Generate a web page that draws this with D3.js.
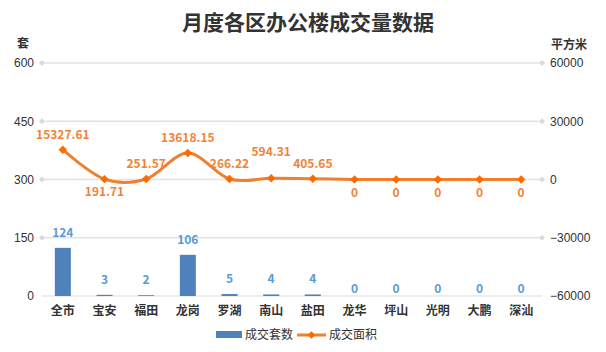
<html>
<head>
<script src="https://d3js.org/d3.v7.min.js"></script>
<style>
body { margin: 0; background: #fff; }
text { font-family: "Noto Sans CJK SC", "Microsoft YaHei", sans-serif; }
</style>
</head>
<body>
<svg id="chart" width="606" height="352"></svg>
<script>
const districts = ["全市", "宝安", "福田", "龙岗", "罗湖", "南山", "盐田", "龙华", "坪山", "光明", "大鹏", "深汕"];
const units = [124, 3, 2, 106, 5, 4, 4, 0, 0, 0, 0, 0];
const areas = [15327.61, 191.71, 251.57, 13618.15, 266.22, 594.31, 405.65, 0, 0, 0, 0, 0];
const areaLabels = ["15327.61", "191.71", "251.57", "13618.15", "266.22", "594.31", "405.65", "0", "0", "0", "0", "0"];
const leftTicks = [0, 150, 300, 450, 600];
const rightTicks = [-60000, -30000, 0, 30000, 60000];

const svg = d3.select("#chart");
const margin = { top: 63, right: 64, bottom: 56, left: 42 };
const width = 606, height = 352;
const chartW = width - margin.left - margin.right;
const chartH = height - margin.top - margin.bottom;

const g = svg.append("g").attr("transform", `translate(${margin.left},${margin.top})`);

const x = d3.scaleBand().domain(districts).range([0, chartW]);
const yL = d3.scaleLinear().domain([0, 600]).range([chartH, 0]);
const yR = d3.scaleLinear().domain([-60000, 60000]).range([chartH, 0]);

// rotated square as marker
const rhomb = s => d3.symbol().type(d3.symbolSquare).size(s);

// title
svg.append("text").attr("x", 308).attr("y", 30).attr("text-anchor", "middle")
    .attr("font-size", 21).attr("font-weight", "bold").attr("fill", "#333")
    .text("月度各区办公楼成交量数据");
svg.append("text").attr("x", 23).attr("y", 48).attr("text-anchor", "middle")
    .attr("font-size", 12).attr("font-weight", "bold").attr("fill", "#333").text("套");
svg.append("text").attr("x", 569).attr("y", 49).attr("text-anchor", "middle")
    .attr("font-size", 12).attr("font-weight", "bold").attr("fill", "#333").text("平方米");

// gridlines
g.selectAll("line.grid").data(leftTicks.slice(1)).join("line")
    .attr("class", "grid")
    .attr("x1", 0).attr("x2", chartW)
    .attr("y1", d => yL(d)).attr("y2", d => yL(d))
    .attr("stroke", "#e3e3e3").attr("stroke-width", 1.5);
g.append("line").attr("x1", 0).attr("x2", chartW)
    .attr("y1", chartH).attr("y2", chartH).attr("stroke", "#d9d9d9");

// left axis
const leftAxis = g.append("g").attr("class", "y axis")
    .call(d3.axisLeft(yL).tickValues(leftTicks).tickSize(0).tickPadding(8));
leftAxis.select(".domain").remove();
leftAxis.selectAll("text").attr("font-size", 12).attr("fill", "#333")
    .style("font-family", "'Liberation Sans', Arial, sans-serif");
g.selectAll("path.ldia").data(leftTicks.slice(1)).join("path")
    .attr("class", "ldia").attr("d", rhomb(18))
    .attr("transform", d => `translate(0,${yL(d)}) rotate(45)`).attr("fill", "#d9d9d9");

// right axis
const rightAxis = g.append("g").attr("class", "y axis")
    .attr("transform", `translate(${chartW},0)`)
    .call(d3.axisRight(yR).tickValues(rightTicks).tickFormat(d3.format("d")).tickSize(0).tickPadding(8));
rightAxis.select(".domain").remove();
rightAxis.selectAll("text").attr("font-size", 12).attr("fill", "#333")
    .style("font-family", "'Liberation Sans', Arial, sans-serif");
g.selectAll("path.rdia").data(rightTicks.slice(1)).join("path")
    .attr("class", "rdia").attr("d", rhomb(18))
    .attr("transform", d => `translate(${chartW},${yR(d)}) rotate(45)`).attr("fill", "#d9d9d9");

// x axis
const bottomAxis = g.append("g").attr("transform", `translate(0,${chartH})`)
    .call(d3.axisBottom(x).tickSize(0).tickPadding(10));
bottomAxis.select(".domain").remove();
bottomAxis.selectAll("text").attr("font-size", 12).attr("font-weight", "bold").attr("fill", "#333");

// bars
const barW = 16;
g.selectAll("rect.bar").data(units).join("rect")
    .attr("class", "bar")
    .attr("x", (d, i) => x(districts[i]) + x.bandwidth() / 2 - barW / 2)
    .attr("width", barW)
    .attr("y", d => yL(d))
    .attr("height", d => chartH - yL(d))
    .attr("fill", "#4f81bd");
g.selectAll("text.blabel").data(units).join("text")
    .attr("class", "blabel")
    .attr("x", (d, i) => x(districts[i]) + x.bandwidth() / 2)
    .attr("y", d => yL(d) - (d > 0 ? 11 : 3))
    .attr("text-anchor", "middle").attr("font-size", 12).attr("font-weight", "bold")
    .attr("fill", "#5b9bd5").text(d => d);

// line
const pts = areas.map((v, i) => [x(districts[i]) + x.bandwidth() / 2, yR(v)]);
g.append("path").datum(pts)
    .attr("d", d3.line().curve(d3.curveCardinal.tension(0)))
    .attr("fill", "none").attr("stroke", "#f07f2f").attr("stroke-width", 3);
g.selectAll("path.pt").data(pts).join("path")
    .attr("class", "pt")
    .attr("d", rhomb(36))
    .attr("transform", d => `translate(${d[0]},${d[1]}) rotate(45)`)
    .attr("fill", "#ff6a00");
const below = [false, true, false, false, false, false, false, true, true, true, true, true];
g.selectAll("text.alabel").data(areaLabels).join("text")
    .attr("class", "alabel")
    .attr("x", (d, i) => pts[i][0])
    .attr("y", (d, i) => below[i] ? pts[i][1] + 17 : pts[i][1] - (i === 5 ? 22 : 11))
    .attr("text-anchor", "middle").attr("font-size", 12).attr("font-weight", "bold")
    .attr("fill", "#f08336").text(d => d);

// legend
const legend = svg.append("g").attr("transform", "translate(216,335)");
legend.append("rect").attr("x", 0).attr("y", -4).attr("width", 26).attr("height", 7).attr("fill", "#4f81bd");
legend.append("text").attr("x", 29).attr("y", 4).attr("font-size", 12).attr("fill", "#333").text("成交套数");
legend.append("line").attr("x1", 81).attr("x2", 110).attr("y1", 0).attr("y2", 0)
    .attr("stroke", "#f07f2f").attr("stroke-width", 3);
legend.append("path").attr("d", rhomb(30))
    .attr("transform", "translate(95.5,0) rotate(45)").attr("fill", "#ff6a00");
legend.append("text").attr("x", 113).attr("y", 4).attr("font-size", 12).attr("fill", "#333").text("成交面积");
</script>
</body>
</html>
